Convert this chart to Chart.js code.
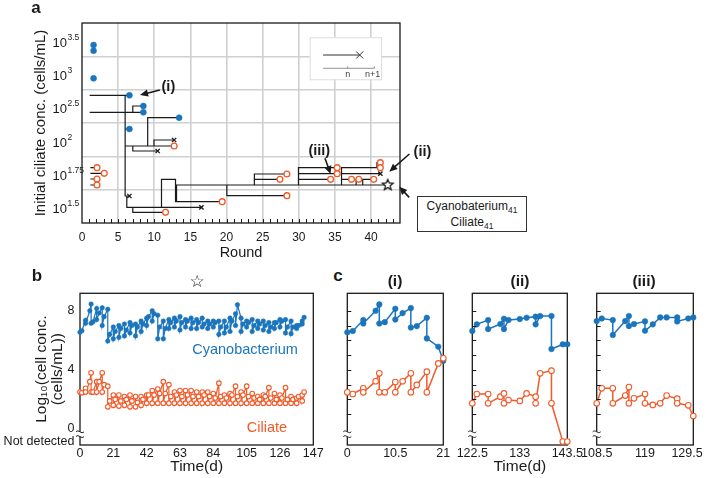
<!DOCTYPE html>
<html lang="en">
<head>
<meta charset="UTF-8">
<title>Cyanobacterium / ciliate transfer rounds</title>
<script src="https://cdn.jsdelivr.net/npm/chart.js"></script>
<style>
  body { margin: 0; background: #fff; font-family: "Liberation Sans", Arial, Helvetica, sans-serif; color: #1a1a1a; }
  #wrap { position: relative; width: 708px; height: 478px; overflow: hidden; }
  canvas { position: absolute; }
  .lbl { position: absolute; transform: translate(-50%, -50%); white-space: nowrap; line-height: 1; }
  .panel { font-weight: bold; font-size: 17px; }
  .sub { font-weight: bold; font-size: 15.5px; }
  #note { position: absolute; left: 417px; top: 196px; width: 110px; height: 36px; box-sizing: border-box;
          border: 1px solid #333; font-size: 12px; text-align: center; line-height: 15px; padding-top: 2px; background: #fff; }
  #note span { font-size: 8.5px; position: relative; top: 3px; }
</style>
</head>
<body>
<div id="wrap">
  <canvas id="chartA" width="440" height="262" style="left:0;top:0"></canvas>
  <canvas id="chartB" width="330" height="193" style="left:0;top:285px"></canvas>
  <canvas id="chartC1" width="125" height="193" style="left:330px;top:285px"></canvas>
  <canvas id="chartC2" width="135" height="193" style="left:455px;top:285px"></canvas>
  <canvas id="chartC3" width="128" height="193" style="left:580px;top:285px"></canvas>

  <div class="lbl panel" style="left:36px;top:7px">a</div>
  <div class="lbl panel" style="left:37px;top:275px">b</div>
  <div class="lbl panel" style="left:338px;top:275px">c</div>
  <div class="lbl sub" style="left:395px;top:281px">(i)</div>
  <div class="lbl sub" style="left:520px;top:281px">(ii)</div>
  <div class="lbl sub" style="left:644px;top:281px">(iii)</div>
  <div class="lbl" style="left:197px;top:281px;font-size:17px;font-family:'DejaVu Sans'">☆</div>
  <div class="lbl" style="left:245px;top:349px;font-size:14.5px;color:#1b75bc">Cyanobacterium</div>
  <div class="lbl" style="left:267px;top:427px;font-size:14.5px;color:#f15a29">Ciliate</div>
  <div id="note">Cyanobaterium<span>41</span><br>Ciliate<span>41</span></div>
</div>

<script>
// ---------- data: panel a (lineage tree) ----------
// x = transfer round, y = position on the initial ciliate axis (one band per level below)
const aLevels = ['1.5', '1.75', '2', '2.5', '3', '3.5'];   // exponents of 10, bottom band first
const aRoundTicks = [0, 5, 10, 15, 20, 25, 30, 35, 40];
const aTree = [
  [[1.06, 3.83], [6.56, 3.83]],
  [[1.06, 3.32], [8.49, 3.32]],
  [[7.03, 3.32], [7.03, 3.51], [8.49, 3.51]],
  [[5.97, 3.83], [5.97, 0.81], [6.56, 0.81]],
  [[5.97, 2.82], [6.56, 2.82]],
  [[5.97, 2.31], [12.75, 2.31]],
  [[9.09, 2.31], [9.09, 3.16], [13.44, 3.16]],
  [[9.96, 2.31], [9.96, 2.49], [12.75, 2.49]],
  [[7.03, 2.31], [7.03, 2.16], [10.47, 2.16]],
  [[6.2, 0.81], [6.2, 0.47], [16.52, 0.47]],
  [[7.03, 0.47], [7.03, 0.32], [11.56, 0.32]],
  [[11.0, 0.47], [11.0, 1.31], [12.94, 1.31], [12.94, 0.64], [19.4, 0.64]],
  [[13.08, 0.64], [13.08, 1.14], [42.3, 1.14]],
  [[20.04, 1.14], [20.04, 0.82], [28.35, 0.82]],
  [[23.85, 1.14], [23.85, 1.47], [28.35, 1.47]],
  [[23.85, 1.31], [27.39, 1.31]],
  [[29.95, 1.14], [29.95, 1.66], [35.31, 1.66]],
  [[29.95, 1.48], [35.31, 1.48]],
  [[29.95, 1.31], [34.4, 1.31]],
  [[35.91, 1.14], [35.91, 1.66], [41.28, 1.66]],
  [[40.81, 1.66], [40.81, 1.81], [41.28, 1.81]],
  [[35.91, 1.48], [41.28, 1.48]],
  [[35.91, 1.31], [37.29, 1.31]],
  [[37.93, 1.14], [37.93, 1.31], [38.3, 1.31]],
  [[38.84, 1.14], [38.84, 1.31], [40.36, 1.31]],
  [[1.16, 1.66], [2.08, 1.66]],
  [[1.16, 1.49], [3.08, 1.49]],
  [[1.16, 1.32], [2.08, 1.32]],
  [[1.16, 1.14], [2.08, 1.14]]
];
const aCyano = [[1.6, 5.34], [1.6, 5.17], [1.6, 4.34], [6.56, 3.83], [8.49, 3.51], [8.49, 3.32], [6.56, 2.82], [13.44, 3.16]];
const aCiliate = [[2.08, 1.66], [3.08, 1.49], [2.08, 1.32], [2.08, 1.14], [12.75, 2.31], [11.56, 0.32], [19.4, 0.64],
  [28.35, 0.82], [28.35, 1.47], [27.39, 1.31], [35.31, 1.66], [35.31, 1.48], [34.4, 1.31], [41.28, 1.81],
  [41.28, 1.66], [37.29, 1.31], [38.3, 1.31], [40.36, 1.31]];
const aExtinct = [[6.56, 0.81], [12.75, 2.49], [10.47, 2.16], [16.52, 0.47], [41.28, 1.48]];
const aFinal = [[42.3, 1.14]];

// ---------- data: panel b (log10 cell conc. over time) ----------
const ND = 'ND';
const bDays = [
  0, 1.2, 3.5,  3.5, 6.2, 7,  7, 8.2, 10.5,  10.5, 12.1, 14,  14, 15.2, 17.5,
  17.5, 18.7, 21,  21, 22.2, 24.5,  24.5, 25.7, 28,  28, 29.2, 31.5,  31.5, 32.7, 35,
  35, 36.2, 38.5,  38.5, 39.7, 42,  42, 43.2, 45.5,  45.5, 46.7, 49,  49, 50.2, 52.5,
  52.5, 53.7, 56,  56, 57.2, 59.5,  59.5, 60.7, 63,  63, 64.2, 66.5,  66.5, 67.7, 70,
  70, 71.2, 73.5,  73.5, 74.7, 77,  77, 78.2, 80.5,  80.5, 81.7, 84,  84, 85.2, 87.5,
  87.5, 88.7, 91,  91, 92.2, 94.5,  94.5, 95.7, 98,  98, 99.2, 101.5,  101.5, 102.7, 105,
  105, 106.2, 108.5,  108.5, 109.7, 112,  112, 113.2, 115.5,  115.5, 116.7, 119,  119, 120.2, 122.5,
  122.5, 123.7, 126,  126, 127.2, 129.5,  129.5, 130.7, 133,  133, 134.2, 136.5,  136.5, 137.7, 140,
  140, 141.2
];
const bCyano = [
  6.55, 6.65, 7.35,  7.15, 8.0, 8.45,  7.15, 7.25, 8.15,  7.4, 7.85, 8.2,  7.0, 7.6, 8.1,
  5.95, 6.4, 6.9,  6.1, 6.6, 7.0,  6.2, 6.8, 7.1,  6.3, 6.7, 7.2,  6.5, 7.0, 7.1,
  6.3, 6.9, 7.3,  6.6, 7.1, 7.5,  7.0, 7.6, 8.0,  7.3, 7.8, 7.7,  6.1, 6.9, 7.3,
  6.1, 6.8, 7.4,  6.8, 7.2, 7.5,  6.9, 7.3, 7.6,  6.7, 7.2, 7.4,  6.9, 7.3, 7.5,
  6.8, 7.2, 7.4,  6.8, 7.2, 7.5,  6.9, 7.1, 7.3,  6.8, 7.1, 7.3,  6.9, 7.2, 7.3,
  6.4, 6.9, 7.3,  6.5, 6.9, 7.5,  6.6, 7.3, 7.8,  7.0, 8.4, 7.5,  6.6, 7.1, 7.3,
  6.9, 7.2, 7.4,  6.6, 7.0, 7.3,  6.8, 7.1, 7.3,  6.7, 7.0, 7.2,  6.6, 6.9, 7.2,
  6.8, 7.2, 7.4,  6.9, 7.3, 7.4,  6.5, 6.9, 7.3,  6.45, 6.9, 7.0,  6.8, 7.0, 7.3,
  7.1, 7.55
];
const bCiliate = [
  2.5, 2.45, 2.75,  2.5, 3.2, 3.8,  2.5, 2.5, 3.2,  2.5, 3.2, 3.8,  2.5, 3.0, 2.9,
  1.5, 1.9, 2.3,  1.6, 2.0, 2.3,  1.55, 1.9, 2.2,  1.6, 2.0, 2.3,  1.5, 1.9, 2.2,
  1.5, 1.8, 2.2,  1.6, 2.0, 2.3,  1.75, 2.3, 2.6,  1.75, 2.3, 2.7,  1.75, 2.4, 3.2,
  1.75, 2.4, 3.0,  1.75, 2.2, 2.5,  1.75, 2.3, 2.6,  1.75, 2.2, 2.6,  1.75, 2.3, 2.6,
  1.75, 2.2, 2.5,  1.75, 2.2, 2.5,  1.75, 2.3, 2.5,  1.75, 2.2, 2.4,  1.75, 2.1, 3.1,
  1.75, 2.2, 2.3,  1.75, 2.1, 2.4,  1.75, 2.3, 2.9,  1.75, 2.2, 2.5,  1.75, 2.3, 2.9,
  1.75, 2.2, 2.4,  1.75, 2.1, 2.2,  1.75, 2.0, 2.3,  1.75, 2.2, 2.8,  1.75, 2.1, 2.4,
  1.75, 2.0, 2.3,  1.75, 2.1, 2.8,  1.75, 2.0, 2.2,  1.75, 2.0, 2.1,  1.75, 2.2, 2.3,
  1.9, 2.5
];
const bDayTicks = [0, 21, 42, 63, 84, 105, 126, 147];
const bValueTicks = [0, 4, 8];

// ---------- data: panel c (three lineages) ----------
const ciDays = [0, 1.2, 3.5, 3.5, 6.2, 7, 7, 8.2, 10.5, 10.5, 12.1, 13.9, 13.9, 15.2, 17.4, 17.4, 19.9, 21];
const ciCyano = [6.54, 6.63, 7.37, 7.14, 8.0, 8.43, 7.14, 7.23, 8.14, 7.41, 7.84, 8.18, 6.87, 6.96, 7.53, 6.13, 5.57, 4.62];
const ciCiliate = [2.48, 2.37, 2.75, 2.48, 3.23, 3.77, 2.48, 2.48, 3.18, 2.48, 3.23, 3.77, 2.48, 2.98, 3.88, 2.48, 4.44, 4.78];
const ciiDays = [122.5, 123.5, 126, 126, 128.7, 129.5, 129.5, 130.5, 133, 134.5, 136.5, 136.5, 137.5, 140, 140, 142.5, 143.5];
const ciiCyano = [6.63, 7.08, 7.37, 6.76, 7.1, 7.46, 6.76, 7.37, 7.44, 7.53, 7.6, 7.08, 7.64, 7.64, 5.41, 5.73, 5.73];
const ciiCiliate = [1.74, 2.37, 2.37, 1.74, 2.19, 2.41, 1.74, 1.96, 1.9, 2.41, 2.19, 1.74, 3.77, 3.95, 1.74, ND, ND];
const ciiiDays = [108.5, 109.6, 112, 112, 114.7, 115.5, 115.5, 116.6, 119, 119, 120.7, 122.3, 123.7, 126, 126, 128.4, 129.5];
const ciiiCyano = [7.3, 7.48, 7.37, 6.36, 7.3, 7.64, 6.96, 7.1, 7.28, 6.65, 7.08, 7.55, 7.55, 7.55, 7.28, 7.48, 7.55];
const ciiiCiliate = [1.74, 2.75, 2.75, 1.74, 2.26, 2.84, 1.74, 2.08, 2.37, 1.74, 1.63, 1.74, 2.26, 2.05, 1.74, 1.6, 0.88];
const ciTicks = [0, 10.5, 21];
const ciiTicks = [122.5, 133, 143.5];
const ciiiTicks = [108.5, 119, 129.5];
const cValueTicks = [1, 2, 3, 4, 5, 6, 7, 8];

// ---------- styling ----------
const BLUE = '#1b75bc';
const ORANGE = '#f15a29';
const INK = '#1a1a1a';
const GRID = '#d0d0d0';
const FONT = '"Liberation Sans", Arial, Helvetica, sans-serif';
const ND_LEVEL = -0.85;   // where "Not detected" sits below the axis break
const Y_MIN = -1.08, Y_MAX = 9.18;

Chart.defaults.font.family = FONT;
Chart.defaults.color = INK;
Chart.defaults.animation = false;
Chart.defaults.events = [];
Chart.defaults.plugins.legend.display = false;
Chart.defaults.plugins.tooltip.enabled = false;

// force scale boxes so every plot frame lands where the figure has it
const fixW = w => s => { s.width = w; s.paddingTop = 0; s.paddingBottom = 0; };
const fixH = h => s => { s.height = h; s.paddingLeft = 0; s.paddingRight = 0; };

const pts = list => list.map(([x, y]) => ({x, y}));
function treeData(lines) {
  const out = [];
  lines.forEach(l => {
    l.forEach(([x, y]) => out.push({x, y}));
    out.push({x: l[l.length - 1][0], y: null});
  });
  return out;
}
const series = (days, vals) => days.map((d, i) => ({x: d, y: vals[i] === ND ? ND_LEVEL : vals[i]}));

function starImage(r, lw) {
  const c = document.createElement('canvas');
  const s = Math.ceil(2 * r + 2 * lw + 2);
  c.width = c.height = s;
  const g = c.getContext('2d');
  g.translate(s / 2, s / 2);
  g.beginPath();
  for (let i = 0; i < 10; i++) {
    const rr = i % 2 ? r * 0.45 : r;
    const a = -Math.PI / 2 + i * Math.PI / 5;
    g.lineTo(rr * Math.cos(a), rr * Math.sin(a));
  }
  g.closePath();
  g.fillStyle = '#fff'; g.fill();
  g.strokeStyle = INK; g.lineWidth = lw; g.stroke();
  return c;
}

function arrow(ctx, x1, y1, x2, y2) {   // tail -> tip
  const a = Math.atan2(y2 - y1, x2 - x1), L = 8, W = 3.6;
  ctx.beginPath();
  ctx.moveTo(x1, y1);
  ctx.lineTo(x2 - L * 0.8 * Math.cos(a), y2 - L * 0.8 * Math.sin(a));
  ctx.stroke();
  ctx.beginPath();
  ctx.moveTo(x2, y2);
  ctx.lineTo(x2 - L * Math.cos(a) + W * Math.sin(a), y2 - L * Math.sin(a) - W * Math.cos(a));
  ctx.lineTo(x2 - L * Math.cos(a) - W * Math.sin(a), y2 - L * Math.sin(a) + W * Math.cos(a));
  ctx.closePath();
  ctx.fill();
}

const framePlugin = {
  id: 'frame',
  beforeDatasetsDraw(chart) {
    const {ctx, chartArea: a} = chart;
    ctx.save();
    ctx.strokeStyle = INK; ctx.lineWidth = 1.3;
    ctx.strokeRect(a.left, a.top, a.right - a.left, a.bottom - a.top);
    ctx.restore();
  }
};

// little "≈" break between 0 and "Not detected"
const breakPlugin = {
  id: 'axisBreak',
  afterDraw(chart) {
    const {ctx, chartArea: a, scales: {y}} = chart;
    const yc = y.getPixelForValue(-0.35);
    ctx.save();
    ctx.fillStyle = '#fff';
    ctx.fillRect(a.left - 4, yc - 2.5, 8, 5);
    ctx.strokeStyle = INK; ctx.lineWidth = 1;
    [-2.4, 2.4].forEach(d => {
      ctx.beginPath();
      ctx.moveTo(a.left - 4, yc + d);
      ctx.bezierCurveTo(a.left - 1.5, yc + d - 3, a.left + 1.5, yc + d + 3, a.left + 4, yc + d);
      ctx.stroke();
    });
    ctx.restore();
  }
};

const innerTicks = {
  id: 'innerTicks',
  afterDraw(chart) {
    const {ctx, chartArea: a, scales: {y}} = chart;
    ctx.save();
    ctx.strokeStyle = INK; ctx.lineWidth = 1;
    y.ticks.forEach(t => {
      const py = Math.round(y.getPixelForValue(t.value)) + 0.5;
      ctx.beginPath(); ctx.moveTo(a.left, py); ctx.lineTo(a.left + 4, py); ctx.stroke();
    });
    ctx.restore();
  }
};

// panel a: level labels, round ticks, inset key, arrows
const treeDecor = {
  id: 'treeDecor',
  afterDraw(chart) {
    const {ctx, chartArea: a, scales: {x, y}} = chart;
    ctx.save();
    ctx.strokeStyle = INK; ctx.fillStyle = INK; ctx.lineWidth = 1;
    x.ticks.forEach(t => {
      if (t.value <= 0 || t.value >= x.max) return;
      const px = Math.round(x.getPixelForValue(t.value)) + 0.5;
      ctx.beginPath(); ctx.moveTo(px, a.bottom); ctx.lineTo(px, a.bottom - 4); ctx.stroke();
    });

    ctx.textAlign = 'left'; ctx.textBaseline = 'middle';
    aLevels.forEach((e, i) => {
      const py = y.getPixelForValue(i + 0.5);
      ctx.font = '13px ' + FONT;
      ctx.fillText('10', 52.5, py + 3.5);
      const w = ctx.measureText('10').width;
      ctx.font = '8.5px ' + FONT;
      ctx.fillText(e, 52.5 + w + 0.5, py - 2.5);
    });

    // key: a lineage line ending in x between round n and n+1
    const l = a.left + 227.7, t = a.top + 14.3;
    ctx.fillStyle = '#fff'; ctx.fillRect(l, t, 71.4, 42);
    ctx.strokeStyle = '#dcdcdc'; ctx.strokeRect(l + 0.5, t + 0.5, 71.4, 42);
    ctx.strokeStyle = '#333'; ctx.lineWidth = 1;
    ctx.beginPath(); ctx.moveTo(l + 13.4, t + 17.7); ctx.lineTo(l + 50, t + 17.7); ctx.stroke();
    ctx.beginPath();
    ctx.moveTo(l + 46.5, t + 14.2); ctx.lineTo(l + 53.5, t + 21.2);
    ctx.moveTo(l + 46.5, t + 21.2); ctx.lineTo(l + 53.5, t + 14.2);
    ctx.stroke();
    ctx.strokeStyle = '#777'; ctx.lineWidth = 0.8;
    ctx.beginPath();
    ctx.moveTo(l + 13.4, t + 31); ctx.lineTo(l + 64.7, t + 31);
    ctx.moveTo(l + 38, t + 31); ctx.lineTo(l + 38, t + 29);
    ctx.moveTo(l + 64.7, t + 31); ctx.lineTo(l + 64.7, t + 29);
    ctx.stroke();
    ctx.fillStyle = '#444'; ctx.font = '9px ' + FONT; ctx.textAlign = 'center';
    ctx.fillText('n', l + 38, t + 37);
    ctx.fillText('n+1', l + 63, t + 37);

    // arrows with their labels (data positions)
    ctx.strokeStyle = INK; ctx.fillStyle = INK; ctx.lineWidth = 1.6;
    const notes = [
      {tip: [8.03, 3.84], tail: [10.78, 3.99], text: '(i)', at: [11.95, 4.07]},
      {tip: [42.52, 1.54], tail: [45.3, 2.07], text: '(ii)', at: [47.1, 2.13]},
      {tip: [34.4, 1.47], tail: [33.62, 1.94], text: '(iii)', at: [32.83, 2.15]},
      {tip: [43.89, 1.09], tail: [45.27, 0.77]}
    ];
    ctx.font = 'bold 14.5px ' + FONT;
    notes.forEach(n => {
      arrow(ctx, x.getPixelForValue(n.tail[0]), y.getPixelForValue(n.tail[1]),
            x.getPixelForValue(n.tip[0]), y.getPixelForValue(n.tip[1]));
      if (n.text) ctx.fillText(n.text, x.getPixelForValue(n.at[0]), y.getPixelForValue(n.at[1]));
    });
    ctx.restore();
  }
};

// ---------- panel a ----------
new Chart(document.getElementById('chartA'), {
  type: 'scatter',
  data: {
    datasets: [
      {data: treeData(aTree), showLine: true, spanGaps: false, borderColor: INK, borderWidth: 1.2,
       pointRadius: 0, tension: 0, order: 5, clip: false},
      {data: pts(aCyano), pointRadius: 3, backgroundColor: BLUE, borderColor: BLUE, borderWidth: 0.5, clip: false},
      {data: pts(aCiliate), pointRadius: 2.9, backgroundColor: '#fff', borderColor: ORANGE, borderWidth: 1.3, clip: false},
      {data: pts(aExtinct), pointStyle: 'crossRot', pointRadius: 3, borderColor: INK, borderWidth: 1.4, clip: false},
      {data: pts(aFinal), pointStyle: starImage(5.6, 1.3), clip: false}
    ]
  },
  options: {
    responsive: false, devicePixelRatio: 1,
    layout: {padding: {left: 0, top: 23, right: 40, bottom: 0}},
    scales: {
      x: {
        type: 'linear', min: 0, max: 44,
        afterFit: fixH(39),
        border: {display: false},
        grid: {drawTicks: false, lineWidth: 1.6,
               color: c => (c.tick && c.tick.value > 0 && c.tick.value % 5 === 0 && c.tick.value <= 40) ? GRID : 'rgba(0,0,0,0)'},
        ticks: {stepSize: 1, autoSkip: false, maxRotation: 0, padding: 7.5, font: {size: 12},
                callback: v => aRoundTicks.includes(v) ? String(v) : ''},
        title: {display: true, text: 'Round', font: {size: 14.5}, padding: {top: 0, bottom: 0}}
      },
      y: {
        type: 'linear', min: 0, max: aLevels.length,
        afterFit: fixW(82),
        afterBuildTicks: s => { s.ticks = [1, 2, 3, 4, 5].map(v => ({value: v})); },
        border: {display: false},
        grid: {drawTicks: false, lineWidth: 1.6, color: GRID},
        ticks: {callback: () => ''},
        title: {display: true, text: 'Initial ciliate conc. (cells/mL)', font: {size: 15}, padding: {top: 32, bottom: 0}}
      }
    }
  },
  plugins: [framePlugin, treeDecor]
});

// ---------- panel b ----------
function cyanoSet(data, r, lw) {
  return {data, showLine: true, borderColor: BLUE, borderWidth: lw, pointRadius: r,
          pointBackgroundColor: BLUE, pointBorderColor: BLUE, pointBorderWidth: 0.5, tension: 0, clip: false};
}
function ciliateSet(data, r, lw) {
  return {data, showLine: true, borderColor: ORANGE, borderWidth: lw, pointRadius: r,
          pointBackgroundColor: '#fff', pointBorderColor: ORANGE, pointBorderWidth: 1.1, tension: 0, clip: false};
}

new Chart(document.getElementById('chartB'), {
  type: 'scatter',
  data: {datasets: [ciliateSet(series(bDays, bCiliate), 2.3, 1.2), cyanoSet(series(bDays, bCyano), 2.3, 1.2)]},
  options: {
    responsive: false, devicePixelRatio: 1,
    layout: {padding: {left: 0, top: 8.3, right: 16.7, bottom: 0}},
    scales: {
      x: {
        type: 'linear', min: 0, max: 147,
        afterFit: fixH(33),
        afterBuildTicks: s => { s.ticks = bDayTicks.map(v => ({value: v})); },
        border: {display: false}, grid: {display: false, drawTicks: false},
        ticks: {autoSkip: false, maxRotation: 0, padding: 1.5, font: {size: 12.5}, callback: v => String(v)},
        title: {display: true, text: 'Time(d)', font: {size: 15.5}, padding: {top: 0, bottom: 2}}
      },
      y: {
        type: 'linear', min: Y_MIN, max: Y_MAX,
        afterFit: fixW(80),
        afterBuildTicks: s => { s.ticks = [ND_LEVEL, ...bValueTicks].map(v => ({value: v})); },
        border: {display: false}, grid: {display: false, drawTicks: false},
        ticks: {autoSkip: false, padding: 5.5, font: {size: 12.5}, callback: v => v === ND_LEVEL ? 'Not detected' : String(v)},
        title: {display: true, text: ['Log₁₀(cell conc.', '(cells/mL))'], font: {size: 15.5, lineHeight: 1.0},
                padding: {top: 34, bottom: 0}}
      }
    }
  },
  plugins: [framePlugin, breakPlugin]
});

// ---------- panel c ----------
function lineagePanel(id, days, cyano, ciliate, xTicks, yWidth, rightPad, withTitle, lastShift) {
  const last = xTicks[xTicks.length - 1];
  new Chart(document.getElementById(id), {
    type: 'scatter',
    data: {datasets: [ciliateSet(series(days, ciliate), 2.8, 1.5), cyanoSet(series(days, cyano), 2.8, 1.5)]},
    options: {
      responsive: false, devicePixelRatio: 1,
      layout: {padding: {left: 0, top: 8.3, right: rightPad, bottom: 0}},
      scales: {
        x: {
          type: 'linear', min: xTicks[0], max: last,
          afterFit: fixH(33),
          afterBuildTicks: s => { s.ticks = xTicks.map(v => ({value: v})); },
          border: {display: false}, grid: {display: false, drawTicks: false},
          ticks: {autoSkip: false, maxRotation: 0, padding: 1.5, font: {size: 12.5},
                  callback: v => (v === last && lastShift) ? String(v) + '\u2002\u2002' : String(v)},
          title: {display: withTitle, text: 'Time(d)', font: {size: 15.5}, padding: {top: 0, bottom: 2}}
        },
        y: {
          type: 'linear', min: Y_MIN, max: Y_MAX,
          afterFit: fixW(yWidth),
          afterBuildTicks: s => { s.ticks = cValueTicks.map(v => ({value: v})); },
          border: {display: false}, grid: {display: false, drawTicks: false},
          ticks: {display: false}
        }
      }
    },
    plugins: [framePlugin, innerTicks, breakPlugin]
  });
}
lineagePanel('chartC1', ciDays, ciCyano, ciCiliate, ciTicks, 17.3, 11.7, false, false);
lineagePanel('chartC2', ciiDays, ciiCyano, ciiCiliate, ciiTicks, 17.3, 22.7, true, false);
lineagePanel('chartC3', ciiiDays, ciiiCyano, ciiiCiliate, ciiiTicks, 16.7, 14.7, false, true);
</script>
</body>
</html>
